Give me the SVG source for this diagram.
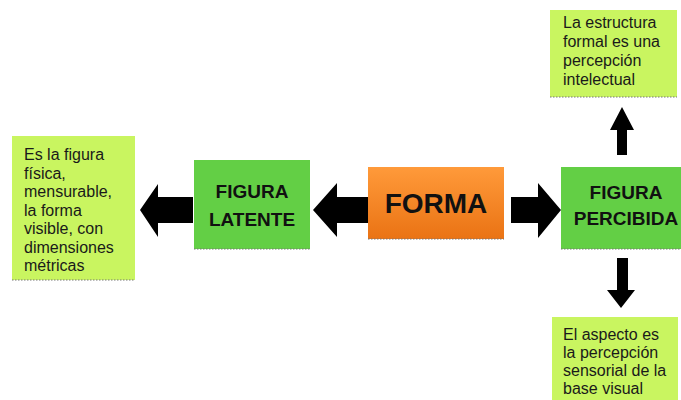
<svg xmlns="http://www.w3.org/2000/svg" width="681" height="400" viewBox="0 0 681 400">
<defs>
<linearGradient id="og" x1="0" y1="0" x2="0" y2="1">
<stop offset="0" stop-color="#ff9a3a"/>
<stop offset="1" stop-color="#ea7314"/>
</linearGradient>
<style>
.lt{fill:#c9f560}
.gr{fill:#63cf45}
.t{font-family:"Liberation Sans",Arial,sans-serif;font-size:16px;fill:#1a1a1a}
.b{font-family:"Liberation Sans",Arial,sans-serif;font-weight:bold;font-size:19px;fill:#111;text-anchor:middle}
.edge{stroke:#777;stroke-width:1.2;stroke-dasharray:1.5 1.5;fill:none}
.arr{fill:#000}
</style>
</defs>
<rect width="681" height="400" fill="#fff"/>
<g id="connectors">
<polygon class="arr" points="140,210 158,184 158,197 193,197 193,223 158,223 158,237"/>
<polygon class="arr" points="313,210 337,183 337,197 368,197 368,223 337,223 337,237"/>
<polygon class="arr" points="561,210 538,183 538,197 511,197 511,223 538,223 538,238"/>
<polygon class="arr" points="622,107 634,130 627,130 627,155 617,155 617,130 610,130"/>
<polygon class="arr" points="621,308 635,290 628,290 628,258 617,258 617,290 607,290"/>
</g>
<g id="n-left">
<rect class="lt" x="12" y="136" width="123" height="144"/>
<line class="edge" x1="12" y1="280" x2="135" y2="280"/>
<text class="t"><tspan x="24" y="160">Es la figura</tspan><tspan x="24" y="178.5">física,</tspan><tspan x="24" y="197">mensurable,</tspan><tspan x="24" y="215.5">la forma</tspan><tspan x="24" y="234">visible, con</tspan><tspan x="24" y="252.5">dimensiones</tspan><tspan x="24" y="271">métricas</tspan></text>
</g>
<g id="n-latente">
<rect class="gr" x="194" y="160" width="116" height="89"/>
<line class="edge" x1="194" y1="249" x2="310" y2="249"/>
<text class="b"><tspan x="252" y="198">FIGURA</tspan><tspan x="252" y="226">LATENTE</tspan></text>
</g>
<g id="n-forma">
<rect x="368" y="167" width="136" height="72" fill="url(#og)"/>
<line class="edge" x1="368" y1="239" x2="504" y2="239"/>
<text class="b" x="436" y="213" style="font-size:28px">FORMA</text>
</g>
<g id="n-percibida">
<rect class="gr" x="561" y="167" width="120" height="82"/>
<line class="edge" x1="561" y1="249" x2="681" y2="249"/>
<text class="b"><tspan x="626" y="199">FIGURA</tspan><tspan x="626" y="225">PERCIBIDA</tspan></text>
</g>
<g id="n-top">
<rect class="lt" x="550" y="10" width="127" height="87"/>
<line class="edge" x1="550" y1="97" x2="677" y2="97"/>
<text class="t"><tspan x="563" y="28">La estructura</tspan><tspan x="563" y="47">formal es una</tspan><tspan x="563" y="66">percepción</tspan><tspan x="563" y="85">intelectual</tspan></text>
</g>
<g id="n-bottom">
<rect class="lt" x="552" y="317" width="126" height="90"/>
<text class="t"><tspan x="563" y="340">El aspecto es</tspan><tspan x="563" y="358">la percepción</tspan><tspan x="563" y="376">sensorial de la</tspan><tspan x="563" y="394">base visual</tspan></text>
</g>
</svg>
